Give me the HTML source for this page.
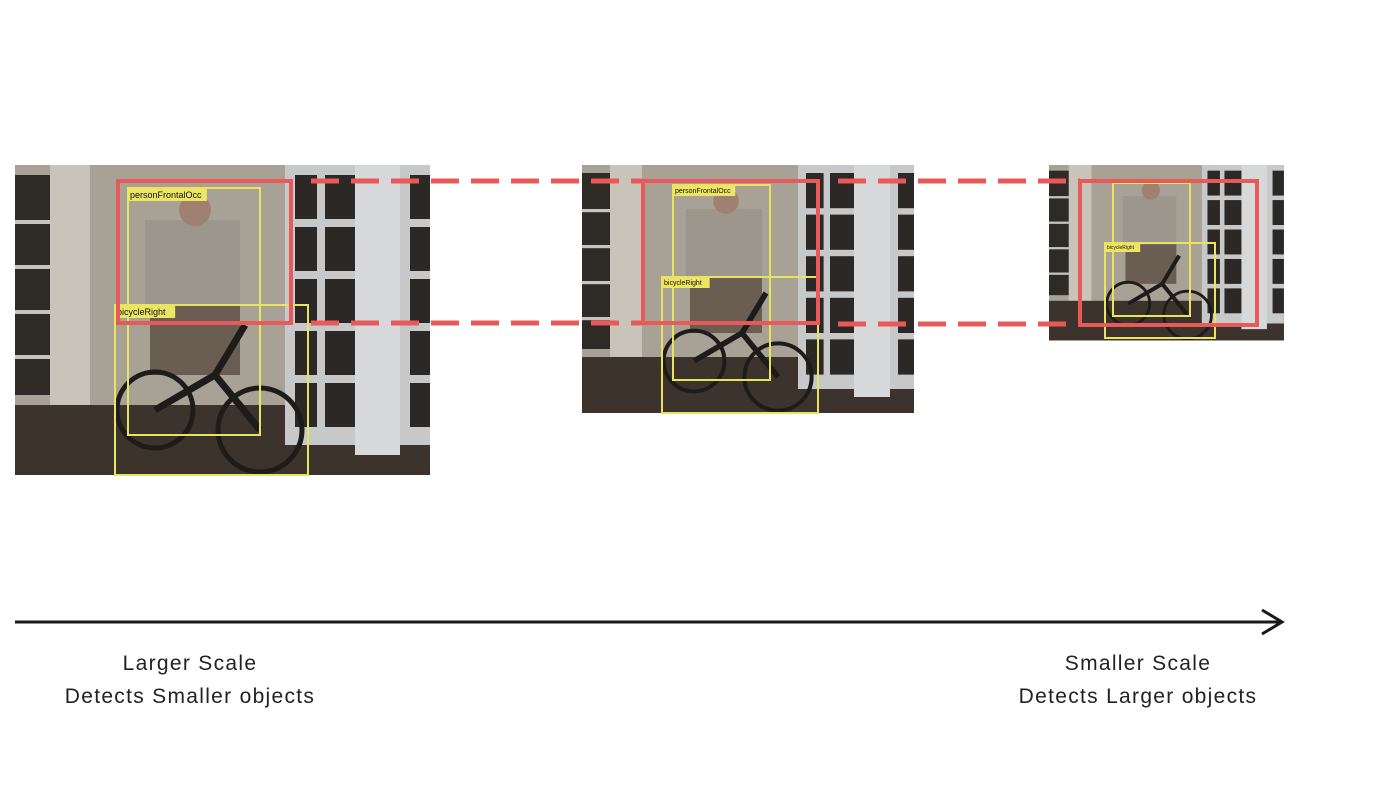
<!DOCTYPE html>
<html><head><meta charset="utf-8"><style>
html,body{margin:0;padding:0;background:#fff;}
svg{display:block;font-family:"Liberation Sans",sans-serif;}
.lbl{font-family:"Liberation Sans",sans-serif;font-size:21px;letter-spacing:1.3px;fill:#222;text-anchor:middle;}
</style></head><body>
<svg id="root" width="1400" height="788" viewBox="0 0 1400 788">
  <g id="photos"></g>
  <g id="overlay"></g>
  <line x1="15" y1="622" x2="1280" y2="622" stroke="#1a1a1a" stroke-width="3"/>
  <polyline points="1262,610 1282,622 1262,634" fill="none" stroke="#1a1a1a" stroke-width="3"/>
  <text class="lbl" x="190" y="670">Larger Scale</text>
  <text class="lbl" x="190" y="703">Detects Smaller objects</text>
  <text class="lbl" x="1138" y="670">Smaller Scale</text>
  <text class="lbl" x="1138" y="703">Detects Larger objects</text>
</svg>
<script>
const NS='http://www.w3.org/2000/svg';
function mk(parent,tag,attrs){const e=document.createElementNS(NS,tag);for(const k in attrs)e.setAttribute(k,attrs[k]);parent.appendChild(e);return e;}
const imgX=[15,582,1049], imgY=[165,165,165], imgS=[1,0.8,0.566];
const photos=document.getElementById('photos');
for(let i=0;i<3;i++){
  const g=mk(photos,'g',{transform:`translate(${imgX[i]},${imgY[i]}) scale(${imgS[i]})`});
  
  
  mk(g,'rect',{x:0,y:0,width:415,height:310,fill:'#8a8276'});
  mk(g,'rect',{x:0,y:0,width:270,height:240,fill:'#a8a196'});
  mk(g,'rect',{x:0,y:10,width:35,height:220,fill:'#2e2a26'});
  for(let k=0;k<4;k++) mk(g,'rect',{x:0,y:55+k*45,width:35,height:4,fill:'#c8c4bc'});
  mk(g,'rect',{x:35,y:0,width:40,height:240,fill:'#c9c4ba'});
  mk(g,'rect',{x:0,y:240,width:415,height:70,fill:'#3c342c'});
  mk(g,'rect',{x:270,y:0,width:145,height:280,fill:'#c6c8ca'});
  for(let r=0;r<5;r++)for(let c=0;c<3;c++){
    const xx=[280,310,395][c], ww=[22,35,20][c];
    mk(g,'rect',{x:xx,y:10+r*52,width:ww,height:44,fill:'#2b2825'});
  }
  mk(g,'rect',{x:340,y:0,width:45,height:290,fill:'#d6d8da'});
  mk(g,'rect',{x:130,y:55,width:95,height:85,fill:'#9c968c'});
  mk(g,'circle',{cx:180,cy:45,r:16,fill:'#a08070'});
  mk(g,'rect',{x:135,y:140,width:90,height:70,fill:'#6a5e52'});
  mk(g,'circle',{cx:140,cy:245,r:38,fill:'none',stroke:'#1e1c1a',"stroke-width":5});
  mk(g,'circle',{cx:245,cy:265,r:42,fill:'none',stroke:'#1e1c1a',"stroke-width":5});
  mk(g,'path',{d:'M140 245 L200 210 L245 265 M200 210 L230 160',stroke:'#1e1c1a',"stroke-width":7,fill:'none'});
}
const ov=document.getElementById('overlay');
const yboxes=[[128,188,132,247,'personFrontalOcc',9],[115,305,193,170,'bicycleRight',9],
 [673,185,97,195,'personFrontalOcc',7],[662,277,156,136,'bicycleRight',7],
 [1113,183,77,133,'',5],[1105,243,110,95,'bicycleRight',5]];
yboxes.forEach((b,i)=>{
  const r=mk(ov,'rect',{x:b[0],y:b[1],width:b[2],height:b[3],fill:'none',stroke:'#e8e460',"stroke-width":2});
  
  
  if(b[4]){
    const w=b[4].length*b[5]*0.52+4;
    mk(ov,'rect',{x:b[0],y:b[1]+1,width:w,height:b[5]+3,fill:'#ece664'});
    const t=mk(ov,'text',{x:b[0]+2,y:b[1]+b[5]+1,"font-size":b[5],fill:'#111'});
    t.textContent=b[4];
    
    
  }
});
const rboxes=[[118,181,173,142],[643,181,175,142],[1080,181,177,144]];
rboxes.forEach((b,i)=>{
  const r=mk(ov,'rect',{x:b[0],y:b[1],width:b[2],height:b[3],fill:'none',stroke:'#e85a5a',"stroke-width":4});
  
  
});
[[291,643,181],[291,643,323],[818,1080,181],[818,1080,324]].forEach((d,i)=>{
  const l=mk(ov,'line',{x1:d[0]+20,y1:d[2],x2:d[1],y2:d[2],stroke:'#e85a5a',"stroke-width":5,"stroke-dasharray":'28 12'});
  
  
});
</script>
</body></html>
